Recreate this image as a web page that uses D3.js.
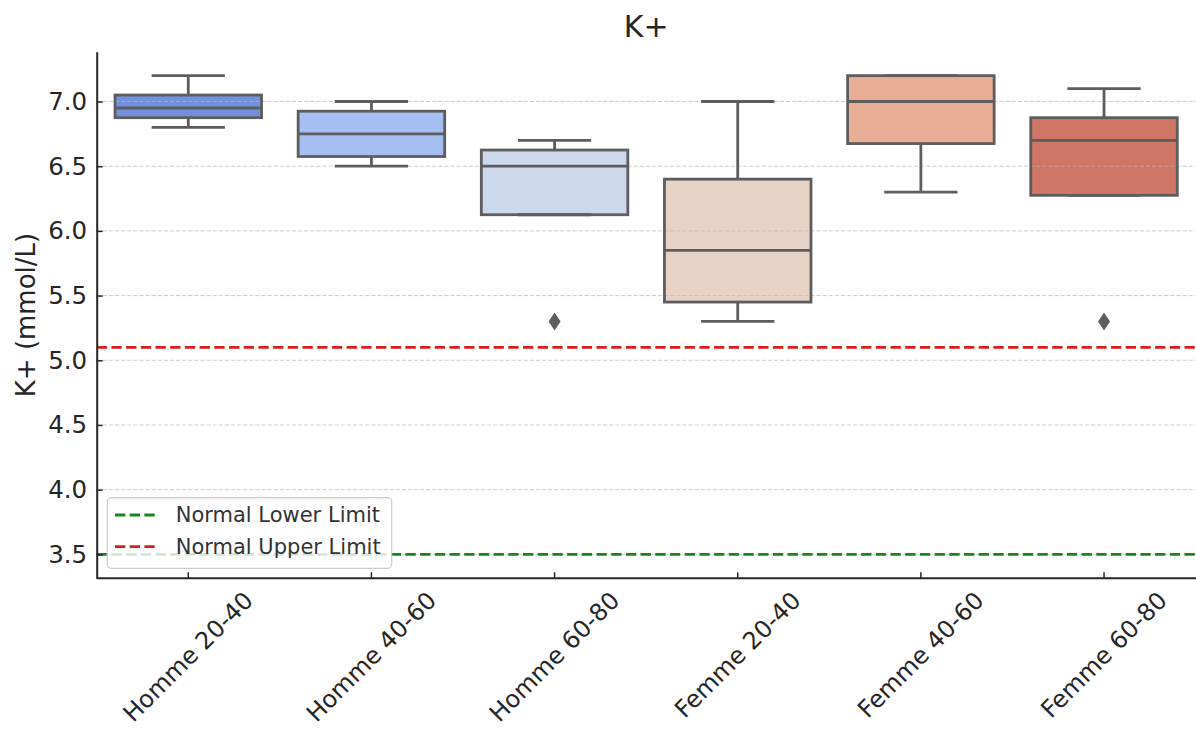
<!DOCTYPE html>
<html>
<head>
<meta charset="utf-8">
<script src="https://cdn.jsdelivr.net/npm/d3@7"></script>
<style>
  body { margin: 0; background: #fff; }
  text { font-family: "DejaVu Sans", sans-serif; }
</style>
</head>
<body>
<svg id="chart" width="1196" height="731"></svg>
<script>
// Potassium by sex and age group: box summary per group
const categories = ["Homme 20-40", "Homme 40-60", "Homme 60-80", "Femme 20-40", "Femme 40-60", "Femme 60-80"];
const whiskerLow = [6.8, 6.5, 6.125, 5.3, 6.3, 6.275];
const q1 = [6.875, 6.575, 6.125, 5.45, 6.675, 6.275];
const medians = [6.95, 6.75, 6.5, 5.85, 7.0, 6.7];
const q3 = [7.05, 6.925, 6.625, 6.4, 7.2, 6.875];
const whiskerHigh = [7.2, 7.0, 6.7, 7.0, 7.2, 7.1];
const outliers = [[], [], [5.3], [], [], [5.3]];

const yTickValues = [3.5, 4.0, 4.5, 5.0, 5.5, 6.0, 6.5, 7.0];

// Reference range lines
const refLabels = ["Normal Lower Limit", "Normal Upper Limit"];
const refValues = [3.5, 5.1];

// ---- styling ----
const palette = ["#7390dc", "#a5bff2", "#ccd8eb", "#e7d2c6", "#e9ad95", "#d07664"];
const refColors = ["#178517", "#da1d1d"];
const lineGray = "#5d5d5d";
const ink = "#262626";

const svg = d3.select("#chart");
const plotLeft = 96.7, plotRight = 1195.6, plotTop = 51.7, plotBottom = 578.3;

const x = d3.scaleBand().domain(categories).range([plotLeft, plotRight]).padding(0);
const y = d3.scaleLinear().domain([3.315, 7.385]).range([plotBottom, plotTop]);
const bw = x.bandwidth();
const boxW = bw * 0.8;
const capW = boxW * 0.5;
const cx = c => x(c) + bw / 2;

const rows = categories.map((c, i) => ({
  cat: c, lo: whiskerLow[i], q1: q1[i], med: medians[i], q3: q3[i], hi: whiskerHigh[i],
  out: outliers[i], fill: palette[i]
}));

// box fills
const gFill = svg.append("g");
gFill.selectAll("rect").data(rows).join("rect")
  .attr("x", d => cx(d.cat) - boxW / 2)
  .attr("y", d => y(d.q3))
  .attr("width", boxW)
  .attr("height", d => y(d.q1) - y(d.q3))
  .attr("fill", d => d.fill);

// horizontal grid
svg.append("g").selectAll("line").data(yTickValues).join("line")
  .attr("x1", plotLeft).attr("x2", plotRight)
  .attr("y1", d => y(d)).attr("y2", d => y(d))
  .attr("stroke", "#b8b8b8").attr("stroke-opacity", 0.7)
  .attr("stroke-width", 1).attr("stroke-dasharray", "4.2 1.9");

// box outlines, whiskers, medians
const gBox = svg.append("g").attr("stroke", lineGray).attr("stroke-width", 2.8).attr("fill", "none");
rows.forEach(d => {
  const c = cx(d.cat);
  const g = gBox.append("g");
  if (d.hi > d.q3) {
    g.append("line").attr("x1", c).attr("x2", c).attr("y1", y(d.q3)).attr("y2", y(d.hi));
  }
  g.append("line").attr("x1", c - capW / 2).attr("x2", c + capW / 2).attr("y1", y(d.hi)).attr("y2", y(d.hi));
  if (d.lo < d.q1) {
    g.append("line").attr("x1", c).attr("x2", c).attr("y1", y(d.q1)).attr("y2", y(d.lo));
  }
  g.append("line").attr("x1", c - capW / 2).attr("x2", c + capW / 2).attr("y1", y(d.lo)).attr("y2", y(d.lo));
  g.append("rect").attr("x", c - boxW / 2).attr("y", y(d.q3))
    .attr("width", boxW).attr("height", y(d.q1) - y(d.q3));
  g.append("line").attr("x1", c - boxW / 2).attr("x2", c + boxW / 2).attr("y1", y(d.med)).attr("y2", y(d.med));
});

// outliers as thin diamonds
const gOut = svg.append("g").attr("fill", lineGray);
rows.forEach(d => {
  d.out.forEach(v => {
    const c = cx(d.cat), yy = y(v);
    gOut.append("path").attr("d", `M${c},${yy - 9} L${c + 6},${yy} L${c},${yy + 9} L${c - 6},${yy} Z`);
  });
});

// reference lines
svg.append("g").selectAll("line").data(refValues).join("line")
  .attr("x1", plotLeft).attr("x2", plotRight)
  .attr("y1", d => y(d)).attr("y2", d => y(d))
  .attr("stroke", (d, i) => refColors[i])
  .attr("stroke-width", 2.8).attr("stroke-dasharray", "10.3 4.4");

// axes
const yAxis = svg.append("g").attr("transform", `translate(${plotLeft},0)`)
  .call(d3.axisLeft(y).tickValues(yTickValues).tickFormat(d3.format(".1f"))
    .tickSizeInner(-6).tickSizeOuter(0).tickPadding(9.5));
yAxis.select(".domain").attr("stroke", ink).attr("stroke-width", 2);
yAxis.selectAll(".tick line").attr("stroke", ink).attr("stroke-width", 1.5);
yAxis.selectAll(".tick text").attr("fill", ink).attr("font-size", 24.5);

const xAxis = svg.append("g").attr("transform", `translate(0,${plotBottom})`)
  .call(d3.axisBottom(x).tickSizeInner(-6).tickSizeOuter(0).tickFormat(""));
xAxis.select(".domain").attr("stroke", ink).attr("stroke-width", 2)
  .attr("d", `M${plotLeft},0H1196`);
xAxis.selectAll(".tick line").attr("stroke", ink).attr("stroke-width", 1.5);

// rotated category labels, bounding box centred under each tick
const fs = 24;
const gLab = svg.append("g");
categories.forEach(c => {
  const t = gLab.append("text")
    .attr("font-size", fs).attr("fill", ink)
    .attr("text-anchor", "end")
    .attr("dominant-baseline", "text-before-edge")
    .text(c);
  const L = t.node().getComputedTextLength();
  const H = fs * 1.16;
  const dx = (L - H) / (2 * Math.SQRT2);
  t.attr("transform", `translate(${cx(c) + dx},${plotBottom + 8}) rotate(-45)`);
});

// title and y label
svg.append("text").attr("x", (plotLeft + plotRight) / 2).attr("y", 37)
  .attr("text-anchor", "middle").attr("font-size", 30).attr("fill", ink).text("K+");
svg.append("text").attr("transform", `translate(35,${(plotTop + plotBottom) / 2}) rotate(-90)`)
  .attr("text-anchor", "middle").attr("font-size", 26).attr("fill", ink).text("K+ (mmol/L)");

// legend
const lg = svg.append("g");
lg.append("rect").attr("x", 107.3).attr("y", 497.7).attr("width", 284.4).attr("height", 70.6)
  .attr("rx", 4).attr("fill", "#fff").attr("fill-opacity", 0.8)
  .attr("stroke", "#cccccc").attr("stroke-width", 1.2);
refLabels.forEach((lab, i) => {
  const ly = 515 + i * 31.7;
  lg.append("line").attr("x1", 115).attr("x2", 158.3).attr("y1", ly).attr("y2", ly)
    .attr("stroke", refColors[i]).attr("stroke-width", 2.8).attr("stroke-dasharray", "10.3 4.4");
  lg.append("text").attr("x", 175.7).attr("y", ly).attr("dy", "0.35em")
    .attr("font-size", 21).attr("fill", "#333").text(lab);
});
</script>
</body>
</html>
